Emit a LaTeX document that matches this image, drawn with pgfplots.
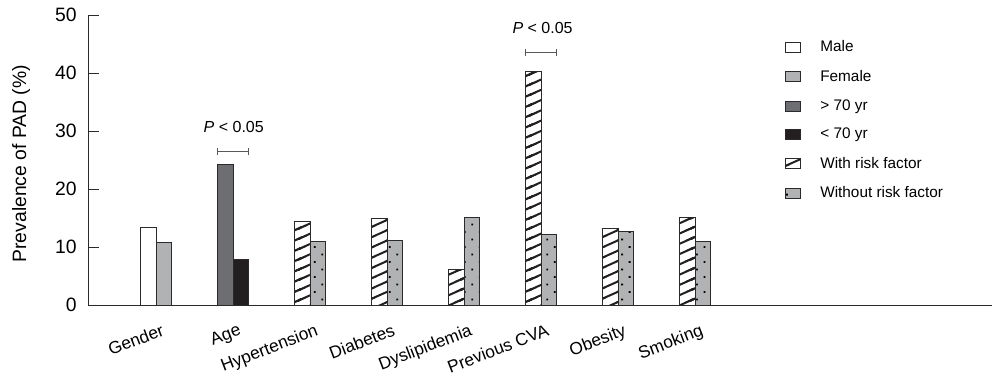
\documentclass[border=0pt]{standalone}
\usepackage{fontspec}
\setmainfont{Liberation Sans}
\usepackage{pgfplots}
\pgfplotsset{compat=1.18}
\usetikzlibrary{patterns.meta}
\definecolor{lgray}{HTML}{B1B2B4}
\definecolor{dgray}{HTML}{6D6E71}
\definecolor{nblack}{HTML}{231F20}
\definecolor{edge}{HTML}{2A2A2A}
\pgfdeclarepatternformonly{myhatch}{\pgfqpoint{-1pt}{-1pt}}{\pgfqpoint{18.3pt}{8.7pt}}{\pgfqpoint{17.3pt}{7.7pt}}{%
  \pgfsetlinewidth{1.5pt}%
  \pgfpathmoveto{\pgfqpoint{-17.3pt}{-7.7pt}}\pgfpathlineto{\pgfqpoint{34.6pt}{15.4pt}}%
  \pgfpathmoveto{\pgfqpoint{-17.3pt}{0pt}}\pgfpathlineto{\pgfqpoint{17.3pt}{15.4pt}}%
  \pgfpathmoveto{\pgfqpoint{0pt}{-7.7pt}}\pgfpathlineto{\pgfqpoint{34.6pt}{7.7pt}}%
  \pgfusepath{stroke}}
\pgfplotsset{
  mybar/.style={ybar, bar width=0.2, draw=edge, line width=0.6pt,
    legend image code/.code={\draw[##1] (0pt,-3.75pt) rectangle (11.25pt,3.75pt);
      \pgfpathmoveto{\pgfqpoint{24pt}{0pt}}\pgfusepath{discard}}},
  hatch/.style={fill=white, postaction={pattern=myhatch, pattern color=nblack}},
  dots/.style={fill=lgray, postaction={pattern={Dots[radius=0.95pt, distance=7.95pt, angle=45]}, pattern color=black}},
}
\begin{document}
\fontsize{11.5}{13.5}\selectfont
\begin{tikzpicture}
\begin{axis}[name=ax,
  scale only axis, width=678pt, height=217.5pt,
  xmin=0.117, xmax=11.857, ymin=0, ymax=50,
  axis x line=bottom, axis y line=left,
  axis line style={-, line width=0.7pt, draw=edge},
  xtick={1,...,8},
  xticklabels={Gender,Age,Hypertension,Diabetes,Dyslipidemia,Previous CVA,Obesity,Smoking},
  x tick style={draw=none},
  ytick={0,10,...,50}, tick align=inside, major tick length=8.25pt,
  y tick style={line width=0.6pt, draw=edge},
  yticklabel style={/pgf/number format/assume math mode=true, xshift=-4.5pt, font=\fontsize{14.5}{16}\selectfont},
  xticklabel style={anchor=north east, xshift=3.5pt, yshift=-13.5pt, rotate=21, inner sep=0pt, font=\fontsize{13}{15}\selectfont},
  ylabel={Prevalence of PAD (\%)},
  ylabel style={at={(axis description cs:-0.074,0.487)}, anchor=center, font=\fontsize{14.5}{16}\selectfont},
  legend style={at={(axis description cs:0.771,0.921)}, anchor=north west, draw=none, fill=none,
    inner sep=0pt, row sep=7.9pt, cells={anchor=west}},
]
\addplot[mybar, bar shift=-0.1, fill=white] coordinates {(1,13.3)};
\addlegendentry{Male}
\addplot[mybar, bar shift=0.1, fill=lgray] coordinates {(1,10.8)};
\addlegendentry{Female}
\addplot[mybar, bar shift=-0.1, fill=dgray] coordinates {(2,24.2)};
\addlegendentry{> 70 yr}
\addplot[mybar, bar shift=0.1, fill=nblack] coordinates {(2,7.8)};
\addlegendentry{< 70 yr}
\addplot[mybar, bar shift=-0.1, hatch] coordinates {(3,14.4) (4,14.9) (5,6.1) (6,40.3) (7,13.2) (8,15.1)};
\addlegendentry{With risk factor}
\addplot[mybar, bar shift=0.1, dots] coordinates {(3,11.0) (4,11.1) (5,15.1) (6,12.2) (7,12.7) (8,11.0)};
\addlegendentry{Without risk factor}
\draw[line width=0.8pt, draw=black!65] (axis cs:1.80,26.4) -- (axis cs:2.20,26.4);
\draw[line width=0.8pt, draw=black!65] (axis cs:1.80,25.8) -- (axis cs:1.80,27.0);
\draw[line width=0.8pt, draw=black!65] (axis cs:2.20,25.8) -- (axis cs:2.20,27.0);
\node[font=\fontsize{12}{14}\selectfont] at (axis cs:2.01,30.7) {\textit{P} < 0.05};
\draw[line width=0.8pt, draw=black!65] (axis cs:5.80,43.5) -- (axis cs:6.20,43.5);
\draw[line width=0.8pt, draw=black!65] (axis cs:5.80,42.9) -- (axis cs:5.80,44.1);
\draw[line width=0.8pt, draw=black!65] (axis cs:6.20,42.9) -- (axis cs:6.20,44.1);
\node[font=\fontsize{12}{14}\selectfont] at (axis cs:6.02,47.8) {\textit{P} < 0.05};
\end{axis}
\pgfresetboundingbox
\path[use as bounding box] (ax.south west) ++(-66pt,-57.75pt) rectangle ([yshift=11.25pt]ax.north east);
\end{tikzpicture}
\end{document}
